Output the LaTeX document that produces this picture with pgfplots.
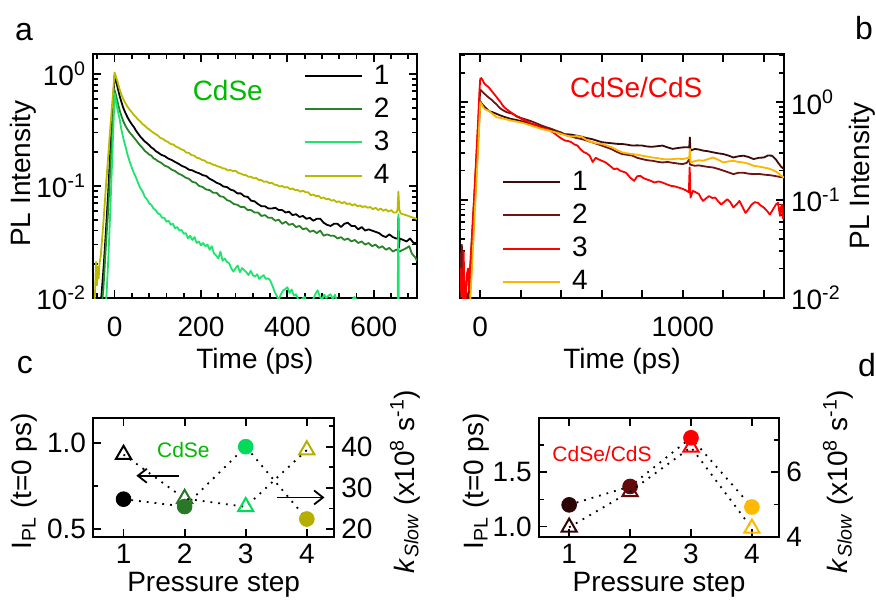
\documentclass[border=0pt]{standalone}
\usepackage{fontspec}
\setmainfont{Liberation Sans}
\usepackage{pgfplots}
\pgfplotsset{compat=1.18}
\usetikzlibrary{arrows.meta}
\definecolor{aA}{RGB}{0,0,0}
\definecolor{aB}{RGB}{40,130,40}
\definecolor{aC}{RGB}{30,228,110}
\definecolor{aD}{RGB}{185,185,0}
\definecolor{cdse}{RGB}{0,185,0}
\definecolor{bA}{RGB}{60,10,10}
\definecolor{bB}{RGB}{110,20,20}
\definecolor{bC}{RGB}{255,0,0}
\definecolor{bD}{RGB}{255,180,0}
\definecolor{cB}{RGB}{40,120,40}
\definecolor{cC}{RGB}{0,220,90}
\definecolor{cD}{RGB}{180,175,0}
\definecolor{dA}{RGB}{45,5,5}
\definecolor{dB}{RGB}{100,10,10}
\definecolor{dD}{RGB}{255,185,0}
\newcommand{\fbig}{\fontsize{14}{16}\selectfont}
\newcommand{\fsmall}{\fontsize{10.5}{12}\selectfont}
\pgfplotsset{
  base/.style={scale only axis, anchor=south west,
    axis line style={line width=1pt},
    every tick/.style={black,line width=0.9pt},
    major tick length=4pt, minor tick length=2.5pt,
    tick label style={font=\fbig},
    label style={font=\fbig},
    /pgf/number format/assume math mode=true},
  curve/.style={line width=0.9pt, mark=none, line join=round},
  leg/.style={legend style={draw=none, fill=none, inner sep=0pt, outer sep=0pt,
    row sep=5.35pt, column sep=5.5pt, font=\fbig, nodes={inner sep=0pt}},
    legend cell align=left,
    legend image code/.code={\draw[##1,line width=1pt] (0pt,0pt) -- (28.5pt,0pt);}},
  dots/.style={black, line width=0.9pt, dash pattern=on 0.9pt off 3pt, mark=none},
  tri/.style={only marks, mark=triangle, mark size=4.4pt, line width=1pt},
  circ/.style={only marks, mark=*, mark size=3.7pt},
}
\begin{document}
\begin{tikzpicture}
\useasboundingbox (0,0) rectangle (438pt,303pt);
% ---------------- panel a
\begin{axis}[base, leg, at={(46.5pt,154pt)}, width=162pt, height=122pt,
  ymode=log, xmin=-50, xmax=700, ymin=0.01, ymax=1.51,
  xtick={0,200,400,600}, minor xtick={-40,0,...,680},
  ytick={0.01,0.1,1,10},
  yticklabels={10\textsuperscript{-2},10\textsuperscript{-1},10\textsuperscript{0},10\textsuperscript{1}},
  xticklabel style={yshift=-6pt},
  xlabel={Time (ps)}, ylabel={PL Intensity},
  xlabel style={at={(axis description cs:0.5,-0.26)}, anchor=center},
  ylabel style={at={(axis description cs:-0.216,0.51)}, anchor=center},
  legend style={at={(axis description cs:0.651,0.955)}, anchor=north west}]
\addplot[curve, aA] coordinates {(-35,0.007)(-30,0.011)(-25,0.02)(-20,0.04)(-15,0.085)(-10,0.2)(-5,0.45)(0,0.98)(4,0.85)(8,0.73)(12,0.63)(16,0.56)(20,0.5)(25,0.45)(30,0.41)(35,0.38)(40,0.355)(45,0.335)(50,0.31)(55,0.292)(60,0.275)(65,0.262)(70,0.25)(75,0.241)(80,0.232)(85,0.221)(90,0.215)(95,0.205)(100,0.2)(108,0.19)(116,0.185)(124,0.176)(132,0.171)(140,0.164)(148,0.158)(156,0.151)(164,0.147)(172,0.14)(180,0.138)(188,0.133)(196,0.13)(204,0.125)(212,0.123)(220,0.116)(228,0.112)(236,0.107)(244,0.104)(252,0.099)(260,0.098)(268,0.093)(276,0.091)(284,0.086)(292,0.086)(300,0.081)(308,0.08)(316,0.074)(324,0.073)(332,0.069)(340,0.066)(348,0.066)(356,0.063)(364,0.063)(372,0.064)(380,0.061)(388,0.061)(396,0.058)(404,0.059)(412,0.055)(420,0.056)(428,0.053)(436,0.054)(444,0.051)(452,0.052)(460,0.049)(468,0.051)(476,0.051)(484,0.047)(492,0.045)(500,0.044)(508,0.046)(516,0.046)(524,0.043)(532,0.046)(540,0.047)(548,0.044)(556,0.044)(564,0.041)(572,0.043)(580,0.04)(588,0.041)(596,0.04)(604,0.039)(612,0.038)(620,0.036)(628,0.035)(636,0.037)(644,0.035)(652,0.034)(656,0.034)(657,0.052)(658,0.028)(660,0.034)(668,0.033)(676,0.032)(684,0.034)(692,0.031)(700,0.031)};
\addlegendentry{1}
\addplot[curve, aB] coordinates {(-32,0.007)(-26,0.012)(-20,0.03)(-15,0.06)(-10,0.14)(-5,0.32)(0,0.72)(4,0.63)(8,0.54)(12,0.47)(16,0.42)(20,0.38)(25,0.345)(30,0.32)(35,0.3)(40,0.285)(45,0.27)(50,0.255)(55,0.241)(60,0.228)(65,0.218)(70,0.206)(75,0.199)(80,0.191)(85,0.187)(90,0.177)(95,0.173)(100,0.167)(108,0.161)(116,0.152)(124,0.148)(132,0.14)(140,0.136)(148,0.129)(156,0.125)(164,0.119)(172,0.116)(180,0.109)(188,0.107)(196,0.1)(204,0.098)(212,0.093)(220,0.092)(228,0.087)(236,0.087)(244,0.081)(252,0.08)(260,0.075)(268,0.073)(276,0.069)(284,0.068)(292,0.065)(300,0.065)(308,0.061)(316,0.061)(324,0.058)(332,0.058)(340,0.054)(348,0.055)(356,0.052)(364,0.052)(372,0.049)(380,0.05)(388,0.046)(396,0.048)(404,0.045)(412,0.046)(420,0.043)(428,0.044)(436,0.041)(444,0.042)(452,0.039)(460,0.04)(468,0.038)(476,0.04)(484,0.036)(492,0.037)(500,0.036)(508,0.036)(516,0.034)(524,0.035)(532,0.033)(540,0.034)(548,0.032)(556,0.033)(564,0.031)(572,0.032)(580,0.030)(588,0.031)(596,0.029)(604,0.030)(612,0.028)(620,0.029)(628,0.027)(636,0.028)(644,0.026)(652,0.027)(660,0.026)(668,0.027)(676,0.028)(682,0.029)(688,0.025)(696,0.023)(700,0.0215)};
\addlegendentry{2}
\addplot[curve, aC] coordinates {(-22,0.007)(-18,0.012)(-14,0.025)(-10,0.06)(-5,0.2)(0,0.67)(3,0.58)(6,0.5)(9,0.44)(12,0.39)(15,0.33)(18,0.29)(22,0.25)(26,0.22)(30,0.19)(35,0.165)(40,0.145)(45,0.13)(50,0.118)(55,0.105)(60,0.095)(65,0.089)(70,0.08)(75,0.076)(80,0.07)(85,0.068)(90,0.063)(95,0.061)(100,0.057)(105,0.056)(110,0.052)(115,0.052)(120,0.048)(125,0.049)(130,0.045)(135,0.046)(140,0.042)(145,0.043)(150,0.040)(155,0.0405)(160,0.0375)(165,0.038)(170,0.034)(175,0.036)(180,0.033)(185,0.035)(190,0.031)(195,0.032)(200,0.0295)(205,0.031)(210,0.029)(215,0.03)(220,0.027)(225,0.029)(230,0.025)(235,0.024)(240,0.0225)(245,0.026)(250,0.0215)(255,0.0225)(260,0.021)(265,0.0205)(270,0.0185)(275,0.0172)(280,0.0185)(285,0.0195)(290,0.017)(295,0.0185)(300,0.0178)(305,0.017)(310,0.016)(315,0.0175)(320,0.016)(325,0.0155)(330,0.0163)(335,0.0148)(340,0.0155)(345,0.016)(350,0.0148)(355,0.015)(360,0.0144)(365,0.013)(370,0.0115)(375,0.0105)(380,0.0097)(385,0.0108)(390,0.0117)(395,0.012)(400,0.0125)(405,0.0111)(410,0.0119)(415,0.0105)(420,0.0108)(425,0.0097)(430,0.0093)(435,0.0099)(440,0.0102)(445,0.0092)(450,0.009)(460,0.0098)(465,0.0109)(470,0.0117)(475,0.0103)(480,0.0097)(485,0.0107)(490,0.01)(495,0.0105)(500,0.0108)(505,0.0098)(510,0.0107)(515,0.0094)(520,0.0088)(530,0.0085)(540,0.0094)(550,0.0097)(555,0.0102)(560,0.0096)(570,0.0085)(580,0.008)(600,0.0075)(620,0.0078)(640,0.0076)(655,0.0077)(657,0.056)(658,0.0075)(680,0.007)(700,0.007)};
\addlegendentry{3}
\addplot[curve, aD] coordinates {(-48,0.007)(-45,0.012)(-43,0.021)(-41,0.013)(-39,0.019)(-37,0.015)(-35,0.02)(-32,0.024)(-28,0.037)(-24,0.06)(-20,0.1)(-15,0.18)(-10,0.33)(-5,0.58)(0,1.03)(4,0.93)(8,0.82)(12,0.72)(16,0.65)(20,0.6)(25,0.55)(30,0.51)(35,0.48)(40,0.455)(45,0.43)(50,0.41)(55,0.39)(60,0.375)(65,0.356)(70,0.346)(75,0.33)(80,0.321)(85,0.309)(90,0.299)(95,0.29)(100,0.283)(106,0.269)(112,0.263)(118,0.253)(124,0.247)(130,0.237)(136,0.235)(142,0.225)(148,0.22)(154,0.213)(160,0.209)(166,0.199)(172,0.198)(178,0.189)(184,0.187)(190,0.179)(196,0.177)(202,0.171)(208,0.169)(214,0.162)(220,0.161)(226,0.156)(232,0.154)(238,0.15)(244,0.148)(250,0.144)(256,0.143)(262,0.138)(268,0.139)(274,0.136)(280,0.137)(286,0.131)(292,0.129)(298,0.126)(304,0.125)(310,0.121)(316,0.121)(322,0.117)(328,0.118)(334,0.113)(340,0.113)(346,0.109)(352,0.11)(358,0.106)(364,0.107)(370,0.103)(376,0.102)(382,0.099)(388,0.1)(394,0.097)(400,0.098)(406,0.094)(412,0.095)(418,0.092)(424,0.092)(430,0.089)(436,0.091)(442,0.088)(448,0.088)(454,0.083)(460,0.084)(466,0.081)(472,0.082)(478,0.078)(484,0.079)(490,0.076)(496,0.077)(502,0.074)(508,0.075)(514,0.072)(520,0.073)(526,0.07)(532,0.072)(538,0.069)(544,0.07)(550,0.067)(556,0.069)(562,0.066)(568,0.067)(574,0.065)(580,0.066)(586,0.064)(592,0.065)(598,0.062)(604,0.064)(610,0.061)(616,0.063)(622,0.06)(628,0.062)(634,0.059)(640,0.061)(646,0.058)(652,0.058)(655,0.061)(657,0.089)(659,0.062)(662,0.057)(668,0.056)(674,0.055)(680,0.054)(686,0.053)(692,0.052)(698,0.051)(700,0.051)};
\addlegendentry{4}
\node[font=\fbig, text=cdse] at (axis cs:262,0.72) {CdSe};
\end{axis}
% ---------------- panel b
\begin{axis}[base, leg, at={(230pt,154pt)}, width=162pt, height=122pt,
  ymode=log, xmin=-100, xmax=1500, ymin=0.01, ymax=3.1,
  xtick={0,200,...,1400}, xticklabels={0,,,,,1000,,},
  ytick={0.01,0.1,1,10},
  yticklabels={10\textsuperscript{-2},10\textsuperscript{-1},10\textsuperscript{0},10\textsuperscript{1}},
  yticklabel pos=right,
  xticklabel style={yshift=-6pt},
  xlabel={Time (ps)}, ylabel={PL Intensity},
  xlabel style={at={(axis description cs:0.5,-0.26)}, anchor=center},
  ylabel style={at={(axis description cs:1.241,0.5)}, anchor=center, rotate=0},
  legend style={at={(axis description cs:0.13,0.52)}, anchor=north west}]
\addplot[curve, bA] coordinates {(-100,0.02)(-98,0.03)(-95,0.015)(-92,0.025)(-89,0.01)(-86,0.022)(-83,0.012)(-80,0.008)(-70,0.009)(-60,0.011)(-55,0.012)(-45,0.025)(-35,0.055)(-25,0.12)(-15,0.27)(-7,0.55)(0,1.02)(10,0.95)(20,0.9)(30,0.86)(40,0.82)(50,0.8)(60,0.79)(70,0.775)(80,0.76)(90,0.745)(100,0.73)(125,0.7)(150,0.675)(175,0.66)(200,0.64)(225,0.62)(250,0.6)(275,0.58)(300,0.563)(325,0.545)(350,0.524)(375,0.5)(400,0.473)(425,0.47)(450,0.466)(475,0.455)(500,0.444)(525,0.43)(550,0.42)(575,0.405)(600,0.39)(625,0.385)(650,0.38)(675,0.375)(700,0.374)(725,0.368)(750,0.36)(775,0.362)(800,0.36)(825,0.352)(850,0.35)(875,0.355)(900,0.36)(925,0.345)(950,0.333)(975,0.34)(1000,0.345)(1020,0.346)(1032,0.345)(1035,0.437)(1038,0.32)(1060,0.333)(1080,0.328)(1100,0.32)(1125,0.315)(1150,0.307)(1175,0.3)(1200,0.295)(1225,0.285)(1250,0.272)(1275,0.28)(1300,0.284)(1325,0.275)(1350,0.262)(1375,0.27)(1400,0.272)(1420,0.285)(1440,0.284)(1460,0.26)(1470,0.242)(1485,0.22)(1500,0.207)};
\addlegendentry{1}
\addplot[curve, bB] coordinates {(-100,0.01)(-97,0.028)(-94,0.018)(-91,0.035)(-88,0.012)(-85,0.025)(-82,0.008)(-78,0.015)(-70,0.01)(-60,0.009)(-55,0.012)(-45,0.03)(-35,0.07)(-25,0.16)(-15,0.38)(-7,0.8)(0,1.34)(10,1.28)(20,1.22)(30,1.17)(40,1.12)(50,1.08)(60,1.04)(70,0.99)(80,0.95)(90,0.9)(100,0.86)(115,0.82)(130,0.79)(145,0.775)(160,0.76)(180,0.72)(200,0.69)(225,0.665)(250,0.64)(275,0.61)(300,0.58)(325,0.555)(350,0.535)(375,0.51)(400,0.49)(425,0.46)(450,0.445)(475,0.43)(500,0.42)(525,0.405)(550,0.39)(575,0.375)(600,0.36)(625,0.345)(650,0.33)(675,0.31)(700,0.295)(725,0.29)(750,0.285)(775,0.27)(800,0.262)(825,0.255)(850,0.252)(875,0.246)(900,0.242)(925,0.245)(950,0.24)(975,0.236)(1000,0.233)(1020,0.24)(1032,0.26)(1036,0.23)(1060,0.224)(1080,0.226)(1100,0.222)(1125,0.218)(1150,0.215)(1175,0.208)(1200,0.2)(1225,0.192)(1250,0.184)(1275,0.19)(1300,0.19)(1325,0.186)(1350,0.184)(1375,0.185)(1400,0.182)(1425,0.18)(1450,0.177)(1475,0.173)(1500,0.17)};
\addlegendentry{2}
\addplot[curve, bC] coordinates {(-100,0.012)(-96,0.02)(-93,0.011)(-90,0.016)(-86,0.009)(-82,0.03)(-79,0.014)(-75,0.008)(-70,0.012)(-65,0.018)(-60,0.02)(-55,0.012)(-50,0.02)(-45,0.03)(-40,0.045)(-30,0.105)(-20,0.27)(-10,0.68)(-4,1.3)(0,1.73)(5,1.76)(10,1.7)(20,1.55)(30,1.48)(40,1.43)(50,1.35)(60,1.27)(70,1.2)(80,1.13)(90,1.06)(100,1.0)(110,0.93)(120,0.88)(135,0.83)(150,0.79)(165,0.75)(180,0.71)(195,0.69)(210,0.66)(225,0.645)(240,0.62)(255,0.6)(270,0.59)(285,0.57)(300,0.555)(315,0.54)(330,0.53)(345,0.51)(360,0.49)(375,0.465)(390,0.44)(405,0.42)(420,0.405)(435,0.4)(450,0.39)(465,0.37)(480,0.36)(495,0.33)(510,0.31)(525,0.3)(540,0.285)(555,0.245)(570,0.27)(585,0.26)(600,0.252)(615,0.245)(630,0.233)(645,0.22)(660,0.207)(675,0.21)(690,0.2)(705,0.195)(720,0.19)(740,0.17)(760,0.157)(775,0.175)(790,0.177)(805,0.168)(820,0.163)(840,0.158)(860,0.151)(880,0.155)(900,0.151)(920,0.145)(940,0.14)(960,0.138)(980,0.134)(1000,0.13)(1015,0.126)(1030,0.12)(1034,0.215)(1036,0.17)(1038,0.106)(1050,0.124)(1065,0.12)(1080,0.115)(1090,0.105)(1100,0.098)(1115,0.104)(1130,0.11)(1145,0.105)(1160,0.106)(1175,0.097)(1190,0.09)(1205,0.096)(1220,0.102)(1235,0.095)(1250,0.084)(1265,0.09)(1280,0.098)(1295,0.085)(1310,0.074)(1325,0.081)(1340,0.09)(1355,0.095)(1370,0.094)(1385,0.088)(1400,0.084)(1415,0.078)(1430,0.071)(1445,0.08)(1460,0.09)(1470,0.094)(1480,0.069)(1485,0.085)(1490,0.09)(1495,0.065)(1500,0.071)};
\addlegendentry{3}
\addplot[curve, bD] coordinates {(-100,0.006)(-55,0.006)(-50,0.009)(-45,0.014)(-35,0.035)(-25,0.09)(-15,0.22)(-7,0.48)(0,1.0)(10,0.92)(20,0.855)(30,0.83)(40,0.82)(50,0.79)(60,0.76)(70,0.73)(80,0.7)(90,0.695)(100,0.69)(125,0.67)(150,0.65)(175,0.635)(200,0.62)(225,0.6)(250,0.577)(275,0.555)(300,0.533)(325,0.52)(350,0.505)(375,0.49)(400,0.473)(425,0.455)(450,0.444)(475,0.45)(500,0.444)(525,0.41)(550,0.39)(575,0.38)(600,0.374)(625,0.36)(650,0.345)(675,0.325)(700,0.307)(725,0.3)(750,0.295)(775,0.29)(800,0.284)(825,0.278)(850,0.272)(875,0.268)(900,0.262)(925,0.26)(950,0.262)(975,0.265)(1000,0.262)(1020,0.268)(1032,0.272)(1035,0.333)(1038,0.242)(1060,0.25)(1080,0.255)(1100,0.252)(1125,0.262)(1150,0.272)(1175,0.258)(1200,0.242)(1225,0.248)(1250,0.252)(1275,0.245)(1300,0.242)(1325,0.235)(1350,0.224)(1375,0.22)(1400,0.215)(1425,0.21)(1450,0.2)(1470,0.19)(1485,0.177)(1500,0.17)};
\addlegendentry{4}
\node[font=\fbig, text=bC] at (axis cs:770,1.415) {CdSe/CdS};
\end{axis}
% ---------------- panel c (left axis)
\begin{axis}[base, at={(46.5pt,34.35pt)}, width=120.65pt, height=59.5pt,
  xmin=0.5, xmax=4.45, ymin=0.45, ymax=1.146,
  xtick={1,2,3,4},
  ytick={0.5,1.0}, minor ytick={0.75}, ytick pos=left,
  yticklabel style={/pgf/number format/fixed, /pgf/number format/fixed zerofill, /pgf/number format/precision=1},
  xlabel={Pressure step}, ylabel={I\textsubscript{PL} (t=0 ps)},
  xlabel style={at={(axis description cs:0.5,-0.40)}, anchor=center},
  ylabel style={at={(axis description cs:-0.286,0.47)}, anchor=center}]
\addplot[dots] coordinates {(1,0.673)(2,0.63)(3,0.98)(4,0.557)};
\addplot[circ, black] coordinates {(1,0.673)};
\addplot[circ, cB] coordinates {(2,0.63)};
\addplot[circ, cC] coordinates {(3,0.98)};
\addplot[circ, cD] coordinates {(4,0.557)};
\node[font=\fsmall, text=cdse] at (axis cs:1.98,0.96) {CdSe};
\draw[-{Straight Barb[length=4.5pt,width=7pt]}, line width=0.9pt] (axis cs:1.91,0.81) -- (axis cs:1.21,0.81);
\draw[-{Straight Barb[length=4.5pt,width=7pt]}, line width=0.9pt] (axis cs:3.52,0.683) -- (axis cs:4.29,0.683);
\end{axis}
% ---------------- panel c (right axis)
\begin{axis}[base, at={(46.5pt,34.35pt)}, width=120.65pt, height=59.5pt,
  xmin=0.5, xmax=4.45, ymin=18, ymax=46.9,
  axis x line=none, axis y line*=right,
  ytick={20,30,40}, minor ytick={25,35,45},
  ylabel={\textit{k}\textsubscript{\textit{Slow}} (x10\textsuperscript{8} s\textsuperscript{-1})},
  ylabel style={at={(axis description cs:1.293,0.47)}, anchor=center, rotate=0}]
\addplot[dots] coordinates {(1,38.1)(2,27.4)(3,25.4)(4,39.2)};
\addplot[tri, black] coordinates {(1,38.1)};
\addplot[tri, cB] coordinates {(2,27.4)};
\addplot[tri, cC] coordinates {(3,25.4)};
\addplot[tri, cD] coordinates {(4,39.2)};
\end{axis}
% ---------------- panel d (left axis)
\begin{axis}[base, at={(269.35pt,34.35pt)}, width=120.3pt, height=59.5pt,
  xmin=0.5, xmax=4.45, ymin=0.9, ymax=2.0,
  xtick={1,2,3,4},
  ytick={1.0,1.5}, minor ytick={1.25,1.75}, ytick pos=left,
  yticklabel style={/pgf/number format/fixed, /pgf/number format/fixed zerofill, /pgf/number format/precision=1},
  xlabel={Pressure step}, ylabel={I\textsubscript{PL} (t=0 ps)},
  xlabel style={at={(axis description cs:0.5,-0.40)}, anchor=center},
  ylabel style={at={(axis description cs:-0.26,0.47)}, anchor=center}]
\addplot[dots] coordinates {(1,1.2)(2,1.37)(3,1.82)(4,1.18)};
\addplot[circ, dA] coordinates {(1,1.2)};
\addplot[circ, dB] coordinates {(2,1.37)};
\addplot[circ, bC] coordinates {(3,1.82)};
\addplot[circ, dD] coordinates {(4,1.18)};
\node[font=\fsmall, text=bC] at (axis cs:1.54,1.673) {CdSe/CdS};
\end{axis}
% ---------------- panel d (right axis)
\begin{axis}[base, at={(269.35pt,34.35pt)}, width=120.3pt, height=59.5pt,
  xmin=0.5, xmax=4.45, ymin=3.98, ymax=7.68,
  axis x line=none, axis y line*=right,
  ytick={4,6}, minor ytick={5,7},
  ylabel={\textit{k}\textsubscript{\textit{Slow}} (x10\textsuperscript{8} s\textsuperscript{-1})},
  ylabel style={at={(axis description cs:1.244,0.47)}, anchor=center, rotate=0}]
\addplot[dots] coordinates {(1,4.29)(2,5.40)(3,6.78)(4,4.26)};
\addplot[tri, dA] coordinates {(1,4.29)};
\addplot[tri, dB] coordinates {(2,5.40)};
\addplot[tri, bC] coordinates {(3,6.78)};
\addplot[tri, dD] coordinates {(4,4.26)};
\end{axis}
% panel letters
\node[font=\fontsize{16}{18}\selectfont] at (12pt,287pt) {a};
\node[font=\fontsize{16}{18}\selectfont] at (432pt,289pt) {b};
\node[font=\fontsize{16}{18}\selectfont] at (12.5pt,120.5pt) {c};
\node[font=\fontsize{16}{18}\selectfont] at (433.5pt,120.5pt) {d};
\end{tikzpicture}
\end{document}
